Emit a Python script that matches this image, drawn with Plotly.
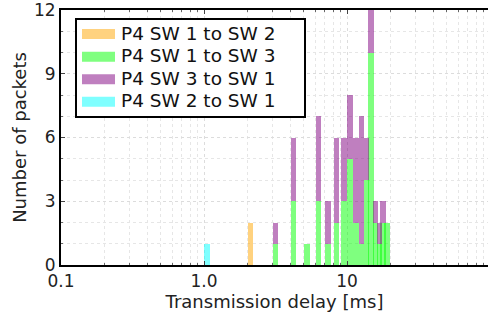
import plotly.graph_objects as go

# ---- data ----
delay_bins = [1.05, 2.11, 3.17, 4.22, 5.28, 6.33, 7.39, 8.44, 9.50, 10.55,
              11.60, 12.66, 13.72, 14.77, 15.83, 16.88, 17.94, 18.99]

sw2_to_sw1_delay = [1.05]
sw2_to_sw1_count = [1]

sw1_to_sw2_delay = [2.11]
sw1_to_sw2_count = [2]

# bins 3..18
multi_delay = delay_bins[2:]
sw1_to_sw3_count = [1, 3, 1, 3, 1, 2, 3, 5, 2, 1, 4, 10, 2, 1, 2, 2]
sw3_to_sw1_count = [1, 3, 0, 4, 2, 4, 3, 3, 4, 6, 2, 2, 1, 1, 1, 0]

series_names = ["P4 SW 1 to SW 2", "P4 SW 1 to SW 3", "P4 SW 3 to SW 1", "P4 SW 2 to SW 1"]
tick_vals = [0.1, 1, 10]
tick_text = ["0.1", "1.0", "10"]
y_ticks = [0, 3, 6, 9, 12]

# ---- styling ----
COL = {
    "orange": "rgba(255,165,0,0.5)",
    "green": "rgba(0,255,0,0.5)",
    "purple": "rgba(128,0,128,0.5)",
    "cyan": "rgba(0,255,255,0.5)",
}
series_colors = [COL["orange"], COL["green"], COL["purple"], COL["cyan"]]
HALF_DEC = 0.0195  # half bar width in decades (constant visual width on log axis)

W, H = 488, 313
ML, MR, MT, MB = 61, 0, 10, 48
PW, PH = W - ML - MR, H - MT - MB


def widths(xs):
    return [x * (10 ** HALF_DEC - 10 ** -HALF_DEC) for x in xs]


def px_x(p):
    return (p - ML) / PW


def px_y(p):
    return (H - MB - p) / PH


FONT = "DejaVu Sans, Verdana, sans-serif"

fig = go.Figure()

bar_specs = [
    (sw1_to_sw3_count, multi_delay, series_names[1], COL["green"]),
    (sw3_to_sw1_count, multi_delay, series_names[2], COL["purple"]),
    (sw1_to_sw2_count, sw1_to_sw2_delay, series_names[0], COL["orange"]),
    (sw2_to_sw1_count, sw2_to_sw1_delay, series_names[3], COL["cyan"]),
]
for counts, xs, name, col in bar_specs:
    fig.add_trace(go.Bar(x=xs, y=counts, width=widths(xs), name=name,
                         showlegend=False,
                         marker=dict(color=col, line=dict(width=0))))

# ---- legend box drawn as shapes + text ----
shapes = [dict(type="rect", xref="paper", yref="paper", layer="above",
               x0=px_x(76), x1=px_x(305), y0=px_y(117), y1=px_y(19),
               fillcolor="white", line=dict(color="black", width=2))]
annotations = []
row_y = [34, 56.7, 79.3, 101.8]
for name, col, ry in zip(series_names, series_colors, row_y):
    shapes.append(dict(type="rect", xref="paper", yref="paper", layer="above",
                       x0=px_x(82), x1=px_x(115), y0=px_y(ry + 5), y1=px_y(ry - 5),
                       fillcolor=col, line=dict(width=0)))
    annotations.append(dict(text=name, xref="paper", yref="paper",
                            x=px_x(119), y=px_y(ry - 1), xanchor="left", yanchor="middle",
                            showarrow=False, font=dict(size=18.5, family=FONT, color="#111")))

minor_x = [m * 10 ** e for e in (-1, 0, 1) for m in range(1, 10)]

fig.update_layout(
    width=W, height=H,
    margin=dict(l=ML, r=MR, t=MT, b=MB),
    paper_bgcolor="white", plot_bgcolor="white",
    barmode="stack", bargap=0,
    showlegend=False,
    font=dict(family=FONT, size=17, color="#222"),
    shapes=shapes, annotations=annotations,
    xaxis=dict(type="log", range=[-1, 1.986], automargin=False,
               tickvals=tick_vals, ticktext=tick_text,
               showline=True, linecolor="black", linewidth=2, mirror="ticks",
               ticks="inside", ticklen=4, tickcolor="#444",
               showgrid=True, gridcolor="#dcdcdc", griddash="dot", gridwidth=1,
               minor=dict(tickvals=minor_x, showgrid=True, gridcolor="#e6e6e6",
                          griddash="dot", ticks="inside", ticklen=2, tickcolor="#666"),
               zeroline=False,
               title=dict(text="Transmission delay [ms]", font=dict(size=18), standoff=2)),
    yaxis=dict(range=[0, 12.0001], tickvals=y_ticks, automargin=False,
               ticklabeloverflow="allow",
               showline=True, linecolor="black", linewidth=2, mirror=False,
               ticks="inside", ticklen=4, tickcolor="#444",
               showgrid=True, gridcolor="#dcdcdc", griddash="dot", gridwidth=1,
               minor=dict(dtick=1, showgrid=True, gridcolor="#e6e6e6", griddash="dot",
                          ticks="inside", ticklen=2, tickcolor="#666"),
               zeroline=False,
               title=dict(text="Number of packets", font=dict(size=18), standoff=3)),
)

fig.write_html("out.html", config={"displayModeBar": False},
               post_script="document.body.style.margin='0';")
